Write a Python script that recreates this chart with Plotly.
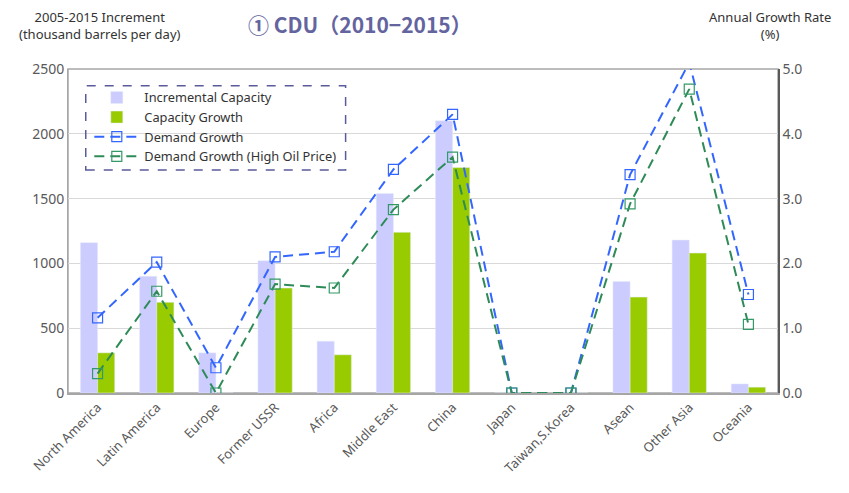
import plotly.graph_objects as go

categories = ["North America", "Latin America", "Europe", "Former USSR", "Africa",
              "Middle East", "China", "Japan", "Taiwan,S.Korea", "Asean",
              "Other Asia", "Oceania"]
incremental_capacity = [1160, 900, 310, 1020, 400, 1540, 2100, 0, 0, 860, 1180, 70]
capacity_growth = [310, 700, 0, 810, 295, 1240, 1740, 0, 0, 740, 1080, 45]
demand_growth = [1.16, 2.02, 0.39, 2.1, 2.18, 3.45, 4.3, 0.0, 0.0, 3.37, 5.1, 1.52]
demand_growth_high = [0.3, 1.57, 0.0, 1.68, 1.62, 2.83, 3.64, 0.0, 0.0, 2.92, 4.69, 1.06]
left_ticks = [0, 500, 1000, 1500, 2000, 2500]
right_ticks = [0.0, 1.0, 2.0, 3.0, 4.0, 5.0]

FONT = "Noto Sans"
GRAY = "#595959"

fig = go.Figure()
fig.add_trace(go.Bar(x=categories, y=incremental_capacity, name="Incremental Capacity",
                     marker_color="#ccccff", yaxis="y"))
fig.add_trace(go.Bar(x=categories, y=capacity_growth, name="Capacity Growth",
                     marker_color="#99cc00", yaxis="y"))
fig.add_trace(go.Scatter(x=categories, y=demand_growth, name="Demand Growth", yaxis="y2",
                         mode="lines+markers",
                         line=dict(color="#3366ff", width=2, dash="10px,6px"),
                         marker=dict(symbol="square-open", size=10, color="#3366ff",
                                     line=dict(width=1.2))))
fig.add_trace(go.Scatter(x=categories, y=demand_growth_high, name="Demand Growth (High Oil Price)",
                         yaxis="y2", mode="lines+markers",
                         line=dict(color="#2e8b57", width=2, dash="10px,6px"),
                         marker=dict(symbol="square-open", size=10, color="#339966",
                                     line=dict(width=1.2))))

fig.update_layout(
    width=841, height=485,
    margin=dict(l=60, r=71, t=61, b=100, autoexpand=False),
    paper_bgcolor="white", plot_bgcolor="white",
    font=dict(family=FONT, size=13, color=GRAY),
    barmode="group", bargap=0.42, bargroupgap=0,
    showlegend=True,
    legend=dict(x=0.03, y=0.958, xanchor="left", yanchor="top",
                bgcolor="rgba(255,255,255,0)", borderwidth=0,
                font=dict(family=FONT, size=12.8, color="#333333"),
                tracegroupgap=0, itemwidth=45),
    xaxis=dict(range=[-0.5, len(categories) - 0.5], tickangle=-45, showgrid=False,
               showline=True, linecolor="#a6a6a6", linewidth=1.5, ticks="",
               tickfont=dict(size=13, color=GRAY), automargin=False),
    yaxis=dict(range=[0, 2500], tickvals=left_ticks, showgrid=True, gridcolor="#d9d9d9",
               showline=True, linecolor="#a6a6a6", linewidth=1, ticks="",
               tickfont=dict(size=14, color=GRAY), zeroline=False, automargin=False),
    yaxis2=dict(range=[0, 5], tickvals=right_ticks, tickformat=".1f", overlaying="y",
                side="right", showgrid=False, showline=True, linecolor="#595959",
                linewidth=1.5, ticks="", tickfont=dict(size=14, color=GRAY), zeroline=False,
                automargin=False),
    shapes=[
        dict(type="rect", xref="paper", yref="paper", x0=0, x1=1, y0=0, y1=1,
             line=dict(color="#a6a6a6", width=1.5), layer="below"),
        dict(type="rect", xref="paper", yref="paper", x0=0.025, x1=0.391, y0=0.688, y1=0.948,
             line=dict(color="#5b5b9b", width=1.5, dash="dash"), layer="above"),
    ],
    annotations=[
        dict(text="2005-2015 Increment<br>(thousand barrels per day)", xref="paper", yref="paper",
             x=0.045, y=1.135, xanchor="center", yanchor="middle", showarrow=False,
             font=dict(family=FONT, size=13, color="#333333")),
        dict(text="<b>① CDU（2010−2015）</b>", xref="paper", yref="paper",
             x=0.411, y=1.14, xanchor="center", yanchor="middle", showarrow=False,
             font=dict(family="Noto Sans CJK JP", size=21, color="#64649f")),
        dict(text="Annual Growth Rate<br>(%)", xref="paper", yref="paper",
             x=0.989, y=1.135, xanchor="center", yanchor="middle", showarrow=False,
             font=dict(family=FONT, size=13, color="#333333")),
    ],
)

fig.write_html("out.html")
